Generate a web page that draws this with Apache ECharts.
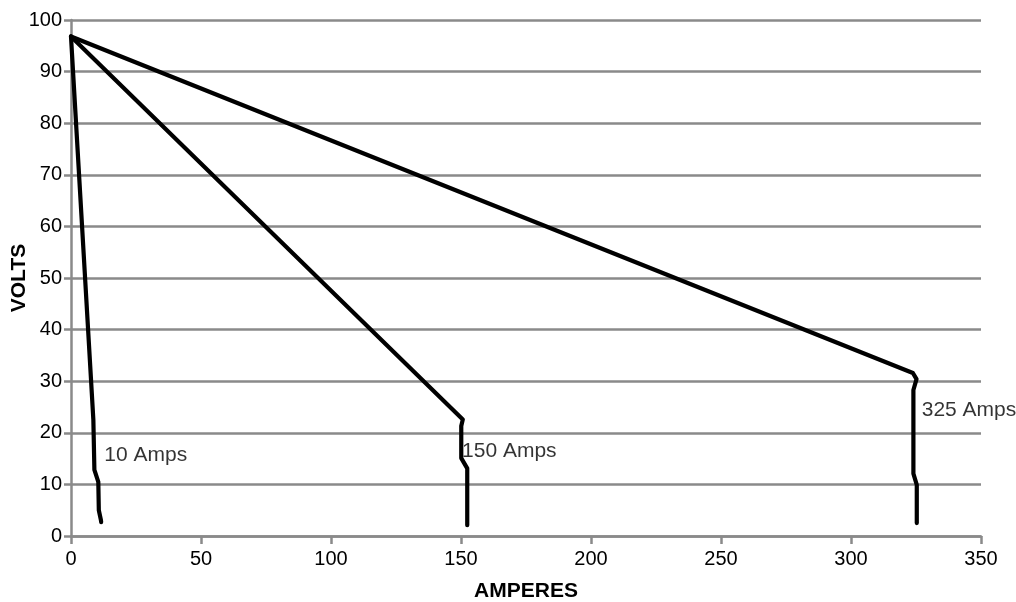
<!DOCTYPE html>
<html>
<head>
<meta charset="utf-8">
<script src="https://cdn.jsdelivr.net/npm/echarts@6/dist/echarts.min.js"></script>
<style>
html,body{margin:0;padding:0;background:#fff;}
#chart{width:1016px;height:602px;}
</style>
</head>
<body>
<div id="chart"></div>
<script>
// Data
var xTicks = [0, 50, 100, 150, 200, 250, 300, 350];
var yTicks = [0, 10, 20, 30, 40, 50, 60, 70, 80, 90, 100];
var curve10 = [[0, 96.8], [8.6, 22.5], [9.0, 12.8], [10.5, 10.5], [10.7, 5.0], [11.5, 3.1], [11.6, 2.7]];
var curve150 = [[0, 96.8], [150.7, 22.6], [150.1, 21.3], [150.1, 15.1], [152.4, 13.1], [152.4, 2.1]];
var curve325 = [[0, 96.8], [323.8, 31.6], [325.2, 30.4], [324.0, 28.3], [324.0, 12.1], [325.3, 9.9], [325.3, 2.5]];
var labelTexts = ['10 Amps', '150 Amps', '325 Amps'];
var labelPoints = [[12.8, 15.7], [150.4, 16.5], [327.2, 24.4]];

var FONT = '"Liberation Sans", Arial, Helvetica, sans-serif';
var GRID = '#8a8a8a';

var chart = echarts.init(document.getElementById('chart'), null, {renderer: 'canvas'});

function lineSeries(d) {
  return {
    type: 'line', data: d, showSymbol: false, symbol: 'none', silent: true,
    lineStyle: {color: '#000', width: 4.2, cap: 'round', join: 'round'},
    z: 5
  };
}

var labelData = labelPoints.map(function (p, i) { return {value: [p[0], p[1]], name: labelTexts[i]}; });

chart.setOption({
  animation: false,
  backgroundColor: '#fff',
  grid: {left: 71, right: 35, top: 20, bottom: 66, containLabel: false, outerBoundsMode: 'none'},
  xAxis: {
    type: 'value', min: 0, max: 350, interval: 50,
    name: 'AMPERES', nameLocation: 'middle', nameGap: 45, nameMoveOverlap: false,
    nameTextStyle: {fontFamily: FONT, fontSize: 21, fontWeight: 'bold', color: '#000'},
    axisLine: {show: true, onZero: false, lineStyle: {color: GRID, width: 2.5}},
    axisTick: {show: true, length: 8, lineStyle: {color: GRID, width: 2.5}},
    axisLabel: {margin: 13, fontFamily: FONT, fontSize: 20, color: '#000',
      formatter: function (v) { return xTicks.indexOf(v) >= 0 ? String(v) : ''; }},
    splitLine: {show: false}
  },
  yAxis: {
    type: 'value', min: 0, max: 100, interval: 10,
    name: 'VOLTS', nameLocation: 'middle', nameGap: 41, nameRotate: 90, nameMoveOverlap: false,
    nameTextStyle: {fontFamily: FONT, fontSize: 21, fontWeight: 'bold', color: '#000'},
    axisLine: {show: true, onZero: false, lineStyle: {color: GRID, width: 2.5}},
    axisTick: {show: true, length: 7, lineStyle: {color: GRID, width: 2.5}},
    axisLabel: {margin: 9, fontFamily: FONT, fontSize: 20, color: '#000',
      formatter: function (v) { return yTicks.indexOf(v) >= 0 ? String(v) : ''; }},
    splitLine: {show: true, lineStyle: {color: GRID, width: 2.5}}
  },
  series: [
    lineSeries(curve10),
    lineSeries(curve150),
    lineSeries(curve325),
    {
      type: 'scatter', data: labelData, symbolSize: 0, silent: true, z: 6,
      label: {show: true, position: 'right', distance: 0,
        formatter: function (p) { return p.name; },
        fontFamily: FONT, fontSize: 21, color: '#000'}
    }
  ]
});
</script>
</body>
</html>
